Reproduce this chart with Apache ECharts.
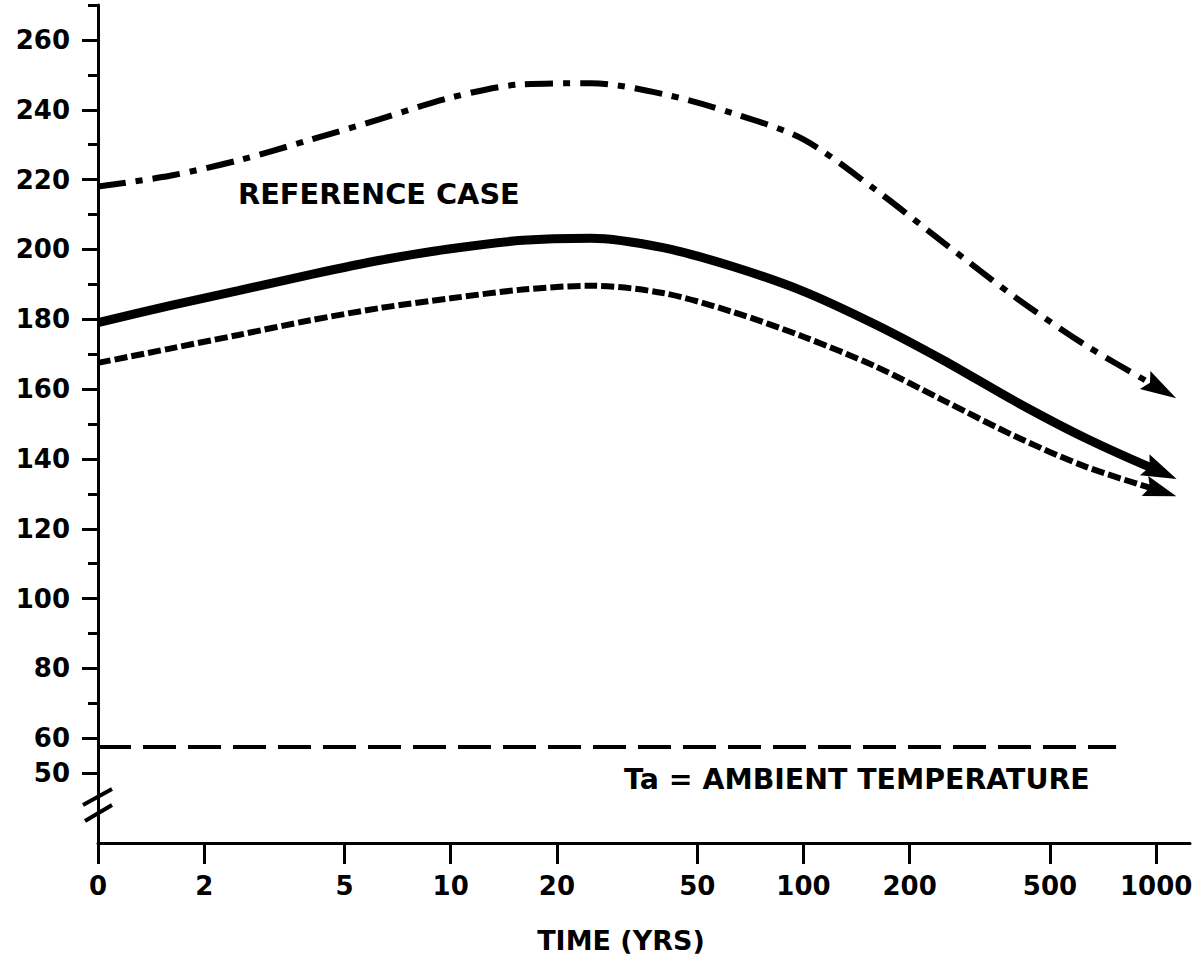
<!DOCTYPE html>
<html><head><meta charset="utf-8">
<script src="https://cdn.jsdelivr.net/npm/echarts@6/dist/echarts.min.js"></script>
<style>html,body{margin:0;padding:0;background:#fff}#c{width:1199px;height:964px}</style>
</head><body><div id="c"></div>
<script>
// ---- data (time in years; "0" on the axis is plotted at t = 1) ----
const years = [1, 1.6, 2.5, 4, 6.3, 10, 16, 25, 40, 63, 100, 160, 250, 400, 630, 1030];
const upperCurve = [218, 221.1, 225.5, 231.4, 237.3, 243.5, 247.3, 247.6, 244.5, 239, 231.5, 217.1, 201.9, 186.2, 172.6, 160];      // dash-dot
const referenceCase = [179, 183.9, 188.2, 192.8, 196.9, 200.2, 202.6, 203.2, 200.5, 195.1, 188, 178.5, 168.2, 156.4, 146, 136.3]; // solid
const lowerCurve = [167.5, 171.6, 175.5, 179.7, 183.2, 186, 188.5, 189.6, 187.5, 182.1, 175, 166.5, 156.7, 146.4, 137.8, 130.8];   // short dash
const ambientYears = [1, 770];
const ambientTemp = [57.5, 57.5];
const xTickYears = [1, 2, 5, 10, 20, 50, 100, 200, 500, 1000];
const xTickLabels = ['0', '2', '5', '10', '20', '50', '100', '200', '500', '1000'];
const yLabelValues = [50, 60, 80, 100, 120, 140, 160, 180, 200, 220, 240, 260];
const yMinorValues = [70, 90, 110, 130, 150, 170, 190, 210, 230, 250, 270];
const refText = 'REFERENCE CASE';
const ambText = 'Ta = AMBIENT TEMPERATURE';
const xTitle = 'TIME (YRS)';

const FONT = '"DejaVu Sans", sans-serif';
const ARROW = 'path://M0,0 L11,32 L0,27 L-11,32 Z';
const lg = t => Math.log10(t);
const pairs = (xs, ys) => xs.map((t, i) => [lg(t), ys[i]]);

const chart = echarts.init(document.getElementById('c'), null, {renderer: 'svg'});

const baseOption = {
  animation: false,
  backgroundColor: '#fff',
  grid: {left: 98, right: 9, top: 5, bottom: 121, containLabel: false},
  xAxis: {
    type: 'value', min: 0, max: 3.096,
    axisLine: {lineStyle: {color: '#000', width: 3}},
    axisTick: {show: true, length: 21, lineStyle: {color: '#000', width: 3},
      customValues: xTickYears.map(lg)},
    axisLabel: {customValues: xTickYears.map(lg), margin: 30, color: '#000',
      fontFamily: FONT, fontWeight: 'bold', fontSize: 26,
      formatter: v => { const t = Math.round(Math.pow(10, v)); const i = xTickYears.indexOf(t); return i >= 0 ? xTickLabels[i] : ''; }},
    splitLine: {show: false}
  },
  yAxis: [{
    type: 'value', min: 30, max: 270,
    axisLine: {show: true, lineStyle: {color: '#000', width: 3}},
    axisTick: {show: true, length: 16, lineStyle: {color: '#000', width: 3}, customValues: yLabelValues},
    axisLabel: {customValues: yLabelValues, margin: 28, color: '#000',
      fontFamily: FONT, fontWeight: 'bold', fontSize: 26},
    splitLine: {show: false}
  }, {
    type: 'value', min: 30, max: 270, position: 'left',
    axisLine: {show: false},
    axisTick: {show: true, length: 10, lineStyle: {color: '#000', width: 3}, customValues: yMinorValues},
    axisLabel: {show: false},
    splitLine: {show: false}
  }],
  series: [
    {type: 'line', data: pairs(years, upperCurve), smooth: 0.3, symbol: 'none',
      lineStyle: {color: '#000', width: 6, type: [28, 10, 7, 10]}},
    {type: 'line', data: pairs(years, referenceCase), smooth: 0.3, symbol: 'none',
      lineStyle: {color: '#000', width: 9}},
    {type: 'line', data: pairs(years, lowerCurve), smooth: 0.3, symbol: 'none',
      lineStyle: {color: '#000', width: 6, type: [13, 4]}},
    {type: 'line', data: pairs(ambientYears, ambientTemp), symbol: 'none',
      lineStyle: {color: '#000', width: 4, type: [33, 12]}}
  ]
};
chart.setOption(baseOption);

function arrow(vals, size) {
  const n = years.length;
  const p1 = chart.convertToPixel({gridIndex: 0}, [lg(years[n - 2]), vals[n - 2]]);
  const p2 = chart.convertToPixel({gridIndex: 0}, [lg(years[n - 1]), vals[n - 1]]);
  const ang = Math.atan2(-(p2[1] - p1[1]), p2[0] - p1[0]) * 180 / Math.PI;
  return {value: [lg(years[n - 1]), vals[n - 1]], symbol: ARROW, symbolSize: size, symbolRotate: ang - 90};
}

const ax = chart.convertToPixel({gridIndex: 0}, [0, 43.2]);
const bx = chart.convertToPixel({gridIndex: 0}, [0, 38.6]);

chart.setOption({
  series: [
    {type: 'line', data: pairs(years, upperCurve)},
    {type: 'line', data: pairs(years, referenceCase)},
    {type: 'line', data: pairs(years, lowerCurve)},
    {type: 'line', data: pairs(ambientYears, ambientTemp)},
    {type: 'scatter', z: 5, itemStyle: {color: '#000', opacity: 1},
      emphasis: {disabled: true},
      data: [arrow(upperCurve, [21, 36]), arrow(referenceCase, [23, 35]), arrow(lowerCurve, [21, 33])]}
  ],
  graphic: [
    {type: 'line', shape: {x1: ax[0] - 15, y1: ax[1] + 8, x2: ax[0] + 14, y2: ax[1] - 8}, style: {stroke: '#000', lineWidth: 4}},
    {type: 'line', shape: {x1: bx[0] - 13, y1: bx[1] + 8, x2: bx[0] + 14, y2: bx[1] - 8}, style: {stroke: '#000', lineWidth: 4}},
    {type: 'text', style: {text: refText, x: 238, y: 194, fill: '#000', fontFamily: FONT, fontWeight: 'bold', fontSize: 28.8, align: 'left', verticalAlign: 'middle'}},
    {type: 'text', style: {text: ambText, x: 624, y: 779, fill: '#000', fontFamily: FONT, fontWeight: 'bold', fontSize: 28.4, align: 'left', verticalAlign: 'middle'}},
    {type: 'text', style: {text: xTitle, x: 621, y: 940, fill: '#000', fontFamily: FONT, fontWeight: 'bold', fontSize: 27, align: 'center', verticalAlign: 'middle'}}
  ]
});
</script>
</body></html>
